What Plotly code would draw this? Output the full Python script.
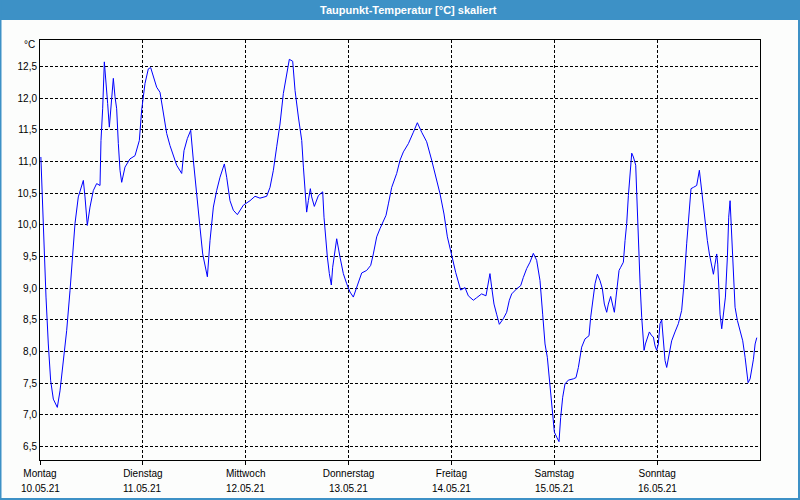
import plotly.graph_objects as go

# Time in hours since Monday 10.05.21 00:00
hours = [0.2, 0.54, 1.01, 1.4, 1.94, 2.49, 3.11, 4.04, 4.67, 5.44,
         6.22, 7.0, 7.62, 8.17, 8.94, 10.11, 10.5, 11.04, 11.67, 12.44,
         13.22, 14.0, 14.23, 14.62, 15.01, 15.4, 15.79, 16.18, 16.57, 17.11,
         17.5, 17.89, 18.28, 18.67, 19.06, 19.83, 21.0, 22.17, 23.18, 23.72,
         24.5, 25.28, 25.82, 26.44, 27.22, 28.0, 28.78, 29.56, 30.33, 31.11,
         31.89, 33.06, 33.6, 34.38, 35.16, 35.78, 36.56, 37.33, 37.96, 38.5,
         39.05, 39.67, 40.45, 41.22, 42.0, 43.01, 43.56, 44.33, 45.11, 46.05,
         47.45,
         49.0, 50.17, 51.33, 52.89, 53.67, 54.45, 55.23, 56.0, 56.78, 57.56,
         58.18, 58.96, 59.51, 60.29, 61.07, 61.46, 61.85, 62.22, 62.61, 63.08,
         63.39, 64.01, 64.95, 65.96, 66.27, 66.74, 67.05, 67.51, 67.98, 68.29,
         68.83, 69.23, 70.0, 70.78, 71.56, 72.33, 73.11, 74.05, 75.06, 76.22,
         77.16, 77.78, 78.56, 79.34, 80.74, 81.29, 82.06, 83.23, 84.01, 84.79,
         85.95, 87.12, 88.05, 89.06, 90.22, 91.39, 92.17, 93.34, 94.27, 95.05,
         96.06, 96.99, 98.16, 99.17, 99.94,
         101.11, 101.89, 103.05, 104.06, 104.6, 104.99, 105.38, 105.93, 106.55, 107.18,
         108.11, 108.89, 109.51, 110.06, 111.22, 112.16, 112.78, 113.56, 114.33, 115.11,
         115.89, 116.67, 117.29, 117.84, 118.38, 118.85, 119.24, 119.63, 120.02, 120.56,
         121.1, 121.49, 121.96, 122.5, 123.28, 124.45, 125.07, 125.62, 126.39, 127.17,
         128.1, 128.49, 129.12, 129.51, 130.05, 130.67, 131.22, 131.68, 132.23, 132.61,
         133.16, 133.63, 134.02, 134.41, 134.72, 135.11, 135.5, 136.12, 136.51, 136.9,
         137.29, 137.68, 138.07, 138.46, 139.0, 139.24, 139.63, 140.02, 140.4, 140.64,
         140.95, 141.26, 141.72, 142.19, 142.73, 143.12, 143.51, 143.9, 144.28, 144.67,
         145.06, 145.45, 145.84, 146.23, 146.77, 147.39, 148.17, 148.95, 149.72, 150.27,
         150.89, 151.44, 151.9, 152.45, 153.23, 153.85,
         154.4, 154.8, 155.18, 155.72, 156.19, 156.74, 157.13, 157.51, 157.9, 158.14,
         158.45, 158.68, 159.07, 159.46, 159.93, 160.39, 160.7, 161.02, 161.41, 161.79,
         162.18, 162.73, 163.35, 163.97, 164.52, 164.91, 165.22, 165.69, 166.08, 166.47,
         166.86, 167.25]

dewpoint = [11.07, 10.36, 9.62, 8.86, 8.12, 7.54, 7.25, 7.12, 7.38, 7.81,
            8.33, 8.96, 9.54, 10.02, 10.44, 10.70, 10.44, 9.99, 10.28, 10.54,
            10.65, 10.62, 11.33, 11.83, 12.57, 12.28, 11.91, 11.54, 11.88, 12.31,
            12.02, 11.83, 11.28, 10.86, 10.67, 10.91, 11.04, 11.09, 11.33, 11.81,
            12.23, 12.46, 12.48, 12.33, 12.17, 12.09, 11.75, 11.44, 11.25, 11.09,
            10.94, 10.81, 11.17, 11.36, 11.49, 11.02, 10.44, 9.96, 9.54, 9.33,
            9.18, 9.75, 10.28, 10.54, 10.75, 10.96, 10.75, 10.38, 10.23, 10.16,
            10.31,
            10.38, 10.45, 10.42, 10.45, 10.59, 10.86, 11.23, 11.59, 12.07, 12.41,
            12.61, 12.58, 12.12, 11.70, 11.33, 10.91, 10.54, 10.20, 10.38, 10.57,
            10.44, 10.29, 10.46, 10.52, 10.12, 9.70, 9.49, 9.23, 9.05, 9.33,
            9.59, 9.78, 9.49, 9.23, 9.07, 8.94, 8.86, 9.04, 9.24, 9.28,
            9.36, 9.54, 9.81, 9.94, 10.15, 10.33, 10.59, 10.81, 11.02, 11.15,
            11.28, 11.46, 11.61, 11.46, 11.31, 11.02, 10.81, 10.49, 10.17, 9.81,
            9.52, 9.25, 8.97, 9.01, 8.88,
            8.81, 8.85, 8.91, 8.88, 9.07, 9.23, 9.02, 8.75, 8.59, 8.43,
            8.52, 8.62, 8.81, 8.91, 8.99, 9.04, 9.17, 9.31, 9.41, 9.55,
            9.44, 9.12, 8.59, 8.12, 7.91, 7.54, 7.33, 6.96, 6.73, 6.65,
            6.58, 6.96, 7.28, 7.49, 7.55, 7.57, 7.59, 7.75, 8.07, 8.20,
            8.25, 8.54, 8.91, 9.07, 9.22, 9.12, 8.99, 8.75, 8.62, 8.75,
            8.87, 8.70, 8.62, 8.86, 9.07, 9.28, 9.33, 9.41, 9.75, 10.02,
            10.46, 10.75, 11.13, 11.07, 10.94, 10.49, 9.59, 9.07, 8.54, 8.33,
            8.02, 8.12, 8.23, 8.31, 8.25, 8.23, 8.09, 8.02, 8.12, 8.44,
            8.50, 8.17, 7.86, 7.75, 7.96, 8.17, 8.31, 8.44, 8.65, 9.07,
            9.70, 10.12, 10.57, 10.59, 10.62, 10.86,
            10.54, 10.28, 9.99, 9.75, 9.54, 9.38, 9.22, 9.38, 9.54, 9.38,
            8.96, 8.59, 8.36, 8.59, 8.86, 9.49, 10.12, 10.38, 9.75, 9.07,
            8.70, 8.49, 8.33, 8.17, 7.91, 7.62, 7.51, 7.57, 7.70, 7.88,
            8.12, 8.22]

day_names = ["Montag", "Dienstag", "Mittwoch", "Donnerstag", "Freitag", "Samstag", "Sonntag"]
day_dates = ["10.05.21", "11.05.21", "12.05.21", "13.05.21", "14.05.21", "15.05.21", "16.05.21"]
day_ticks = [0, 24, 48, 72, 96, 120, 144]
y_ticks = [6.5, 7.0, 7.5, 8.0, 8.5, 9.0, 9.5, 10.0, 10.5, 11.0, 11.5, 12.0, 12.5]
y_labels = ["6,5", "7,0", "7,5", "8,0", "8,5", "9,0", "9,5", "10,0", "10,5", "11,0", "11,5", "12,0", "12,5"]
title_text = "Taupunkt-Temperatur [°C] skaliert"
unit_text = "°C"

W, H = 800, 500
L, R, T, B = 40, 40, 40, 40
pw, ph = W - L - R, H - T - B


def px_x(px):
    return (px - L) / pw


def px_y(py):
    return (H - B - py) / ph


BG = "#fcfdfc"
BAR = "#3d91c6"
FONT = "Liberation Sans"

fig = go.Figure()
fig.add_trace(go.Scatter(x=hours, y=dewpoint, mode="lines",
                         line=dict(color="#0000ff", width=1), showlegend=False,
                         hoverinfo="skip"))

axis_common = dict(showline=True, linecolor="black", linewidth=1, mirror=True,
                   showgrid=True, gridcolor="black", gridwidth=1, griddash="3px,2px",
                   zeroline=False, tickfont=dict(family=FONT, size=10, color="black"))

fig.update_xaxes(range=[0, 168], tickmode="array", tickvals=day_ticks, ticktext=day_names,
                 ticks="outside", ticklen=4, tickcolor="black", **axis_common)
fig.update_yaxes(range=[6.29, 12.915], tickmode="array", tickvals=y_ticks, ticktext=y_labels,
                 ticks="", **axis_common)

annotations = []
for t, d in zip(day_ticks, day_dates):
    annotations.append(dict(x=t, y=px_y(488.5), xref="x", yref="paper", text=d,
                            showarrow=False, xanchor="center", yanchor="middle",
                            font=dict(family=FONT, size=10, color="black")))
annotations.append(dict(x=px_x(37), y=px_y(45), xref="paper", yref="paper", text=unit_text,
                        showarrow=False, xanchor="right", yanchor="middle",
                        font=dict(family=FONT, size=10, color="black")))
annotations.append(dict(x=px_x(408), y=px_y(10), xref="paper", yref="paper", text="<b>" + title_text + "</b>",
                        showarrow=False, xanchor="center", yanchor="middle",
                        font=dict(family=FONT, size=11, color="white")))

shapes = [
    dict(type="rect", xref="paper", yref="paper", x0=px_x(0), x1=px_x(800), y0=px_y(20), y1=px_y(0),
         fillcolor=BAR, line=dict(width=0), layer="above"),
    dict(type="rect", xref="paper", yref="paper", x0=px_x(0.5), x1=px_x(799), y0=px_y(499), y1=px_y(0),
         fillcolor="rgba(0,0,0,0)", line=dict(color=BAR, width=2), layer="above"),
]

fig.update_layout(width=W, height=H, margin=dict(l=L, r=R, t=T, b=B, pad=0),
                  paper_bgcolor=BG, plot_bgcolor=BG, hovermode=False,
                  annotations=annotations, shapes=shapes, showlegend=False)

fig.write_html("out.html", config={"displayModeBar": False},
               post_script="document.body.style.margin='0';document.body.style.padding='0';"
                           "document.body.style.overflow='hidden';")
